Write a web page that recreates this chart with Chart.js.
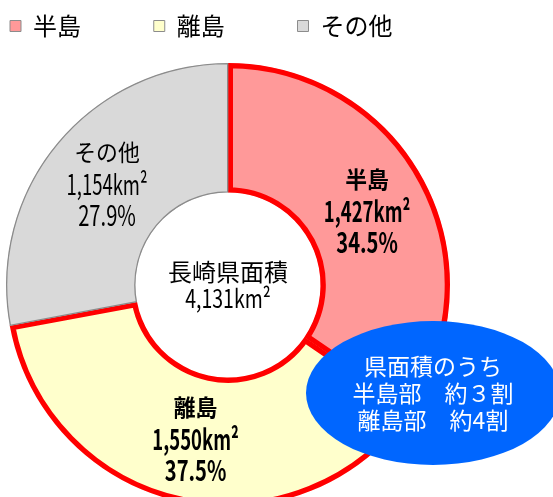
<!DOCTYPE html>
<html lang="ja">
<head>
<meta charset="utf-8">
<script src="https://cdn.jsdelivr.net/npm/chart.js@4/dist/chart.umd.min.js"></script>
<style>
  html, body { margin: 0; padding: 0; background: #fff; overflow: hidden; }
  #wrap { width: 553px; height: 497px; overflow: hidden; }
</style>
</head>
<body>
<div id="wrap"><canvas id="areaChart" width="553" height="540"></canvas></div>
<script>
// 長崎県の面積内訳
var categories = ['半島', '離島', 'その他'];
var areas = [1427, 1550, 1154];          // km2
var shares = [34.5, 37.5, 27.9];         // %
var totalArea = 4131;
var centerTitle = '長崎県面積';
var noteLines = ['県面積のうち', '半島部\u3000約３割', '離島部\u3000約4割'];

var fillColors = ['#FF9999', '#FFFFCC', '#D9D9D9'];
var edgeColors = ['#FF0000', '#FF0000', '#8C8C8C'];
var edgeWidths = [5, 5, 1];
var boldLabel = [true, true, false];

var CJK = '"Noto Sans CJK JP", sans-serif';

function fmt(n) {
    return n.toLocaleString('en-US');
}

// draw text squeezed horizontally (the original uses a narrow gothic face)
function narrowText(ctx, text, x, y, sx) {
    ctx.save();
    ctx.translate(x, y);
    ctx.scale(sx, 1);
    ctx.fillText(text, 0, 0);
    ctx.restore();
}

// labels inside the ring + centre text + blue note
var ringText = {
    id: 'ringText',
    afterDraw: function (chart) {
        const ctx = chart.ctx;
        const meta = chart.getDatasetMeta(0);
        const cx = (chart.chartArea.left + chart.chartArea.right) / 2;
        const cy = (chart.chartArea.top + chart.chartArea.bottom) / 2;

        ctx.save();
        ctx.textAlign = 'center';
        ctx.textBaseline = 'middle';
        ctx.fillStyle = '#000';

        meta.data.forEach((arc, i) => {
            const p = arc.tooltipPosition();
            const w = boldLabel[i] ? 'bold ' : '';
            ctx.font = w + '23px ' + CJK;
            narrowText(ctx, categories[i], p.x, p.y - 32, 0.95);
            ctx.font = w + '28px ' + CJK;
            narrowText(ctx, fmt(areas[i]) + 'km²', p.x, p.y, 0.66);
            narrowText(ctx, shares[i].toFixed(1) + '%', p.x, p.y + 31, 0.72);
        });

        // centre
        ctx.font = '24px ' + CJK;
        ctx.fillText(centerTitle, cx, cy - 13);
        ctx.font = '25px ' + CJK;
        narrowText(ctx, fmt(totalArea) + 'km²', cx, cy + 13, 0.78);

        // blue note ellipse
        const ex = cx + 205, ey = cy + 108;
        ctx.beginPath();
        ctx.ellipse(ex, ey, 127, 72, 0, 0, Math.PI * 2);
        ctx.fillStyle = '#0066FF';
        ctx.fill();
        ctx.fillStyle = '#fff';
        ctx.font = '23px ' + CJK;
        noteLines.forEach((t, k) => {
            ctx.fillText(t, ex, ey - 27 + k * 27);
        });
        ctx.restore();
    }
};

const ctx = document.getElementById('areaChart').getContext('2d');
new Chart(ctx, {
    type: 'doughnut',
    data: {
        labels: categories,
        datasets: [{
            data: areas,
            backgroundColor: fillColors,
            borderColor: edgeColors,
            borderWidth: edgeWidths,
            borderAlign: 'inner',
            borderJoinStyle: 'miter',
            hoverOffset: 0
        }]
    },
    options: {
        responsive: false,
        animation: false,
        events: [],
        radius: 222,
        cutout: 95,
        rotation: 0,
        layout: {
            padding: { left: 0, right: 97, top: 4, bottom: 18 }
        },
        plugins: {
            tooltip: { enabled: false },
            legend: {
                position: 'top',
                align: 'start',
                labels: {
                    boxWidth: 11,
                    boxHeight: 11,
                    padding: 10,
                    color: '#000',
                    font: { family: CJK, size: 24 },
                    generateLabels: function (chart) {
                        const items = Chart.overrides.doughnut.plugins.legend.labels.generateLabels(chart);
                        items.forEach((it, i) => {
                            // pad so the items sit at an even pitch like the original
                            if (i < items.length - 1) {
                                it.text = it.text + '\u3000\u3000  \u2006';
                            }
                            it.strokeStyle = '#8C8C8C';
                            it.lineWidth = 1;
                        });
                        return items;
                    }
                }
            }
        }
    },
    plugins: [ringText]
});
</script>
</body>
</html>
